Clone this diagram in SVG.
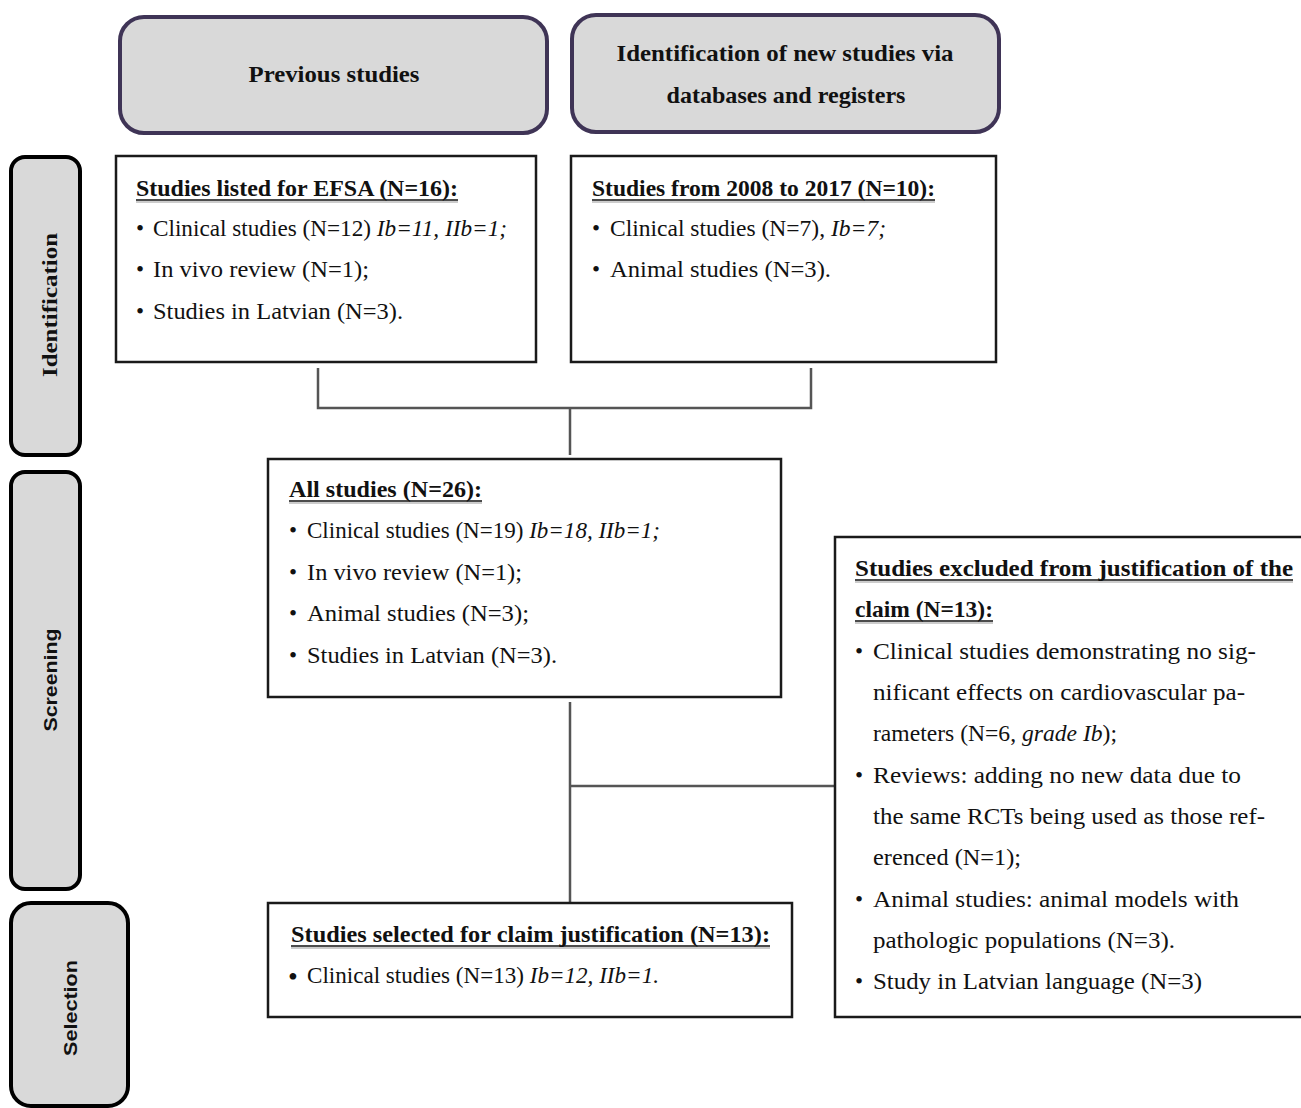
<svg xmlns="http://www.w3.org/2000/svg" width="1301" height="1108" viewBox="0 0 1301 1108">
<style>
.hdr{fill:#d9d9d9;stroke:#3f3456;stroke-width:4}
.side{fill:#d9d9d9;stroke:#000;stroke-width:4}
.box{fill:#fff;stroke:#1a1a1a;stroke-width:2.5}
.conn{fill:none;stroke:#555;stroke-width:2.5}
.ul{stroke:#111;stroke-width:1.5}
.uls{stroke:#bbb;stroke-width:1.5}
text{font-family:"Liberation Serif","Times New Roman",serif;font-size:23px;fill:#111}
.b{font-weight:bold}
.i{font-style:italic}
.sans{font-family:"Liberation Sans",Arial,sans-serif;font-weight:bold;font-size:19px}
</style>
<g id="connectors">
<path class="conn" d="M318 368V408H811V368M570 408V455"/>
<path class="conn" d="M570 702V902M570 786H835"/>
</g>
<g id="hdr-previous">
<rect class="hdr" x="120" y="17" width="427" height="116" rx="24"/>
<text class="b" x="334" y="82" text-anchor="middle" textLength="171" lengthAdjust="spacingAndGlyphs">Previous studies</text>
</g>
<g id="hdr-new">
<rect class="hdr" x="572" y="15" width="427" height="117" rx="24"/>
<text class="b" x="785" y="61" text-anchor="middle" textLength="337" lengthAdjust="spacingAndGlyphs">Identification of new studies via</text>
<text class="b" x="786" y="103" text-anchor="middle" textLength="239" lengthAdjust="spacingAndGlyphs">databases and registers</text>
</g>
<g id="side-identification">
<rect class="side" x="11" y="157" width="69" height="298" rx="14"/>
<text class="b" x="57" y="305" text-anchor="middle" transform="rotate(-90 57 305)" textLength="144" lengthAdjust="spacingAndGlyphs" style="font-size:21px">Identification</text>
</g>
<g id="side-screening">
<rect class="side" x="11" y="472" width="69" height="417" rx="14"/>
<text class="sans" x="57" y="680" text-anchor="middle" transform="rotate(-90 57 680)" textLength="103" lengthAdjust="spacingAndGlyphs">Screening</text>
</g>
<g id="side-selection">
<rect class="side" x="11" y="903" width="117" height="203" rx="20"/>
<text class="sans" x="77" y="1008" text-anchor="middle" transform="rotate(-90 77 1008)" textLength="96" lengthAdjust="spacingAndGlyphs">Selection</text>
</g>
<g id="box-efsa">
<rect class="box" x="116" y="156" width="420" height="206"/>
<text class="b" x="136" y="196" textLength="322" lengthAdjust="spacingAndGlyphs">Studies listed for EFSA (N=16):</text>
<line class="ul" x1="136" y1="200" x2="458" y2="200"/><line class="uls" x1="136" y1="202" x2="458" y2="202"/>
<text x="136" y="236">•</text><text x="153" y="236" textLength="354" lengthAdjust="spacingAndGlyphs">Clinical studies (N=12) <tspan class="i">Ib=11, IIb=1;</tspan></text>
<text x="136" y="277">•</text><text x="153" y="277" textLength="216" lengthAdjust="spacingAndGlyphs">In vivo review (N=1);</text>
<text x="136" y="319">•</text><text x="153" y="319" textLength="250" lengthAdjust="spacingAndGlyphs">Studies in Latvian (N=3).</text>
</g>
<g id="box-2008">
<rect class="box" x="571" y="156" width="425" height="206"/>
<text class="b" x="592" y="196" textLength="343" lengthAdjust="spacingAndGlyphs">Studies from 2008 to 2017 (N=10):</text>
<line class="ul" x1="592" y1="200" x2="935" y2="200"/><line class="uls" x1="592" y1="202" x2="935" y2="202"/>
<text x="592" y="236">•</text><text x="610" y="236" textLength="276" lengthAdjust="spacingAndGlyphs">Clinical studies (N=7), <tspan class="i">Ib=7;</tspan></text>
<text x="592" y="277">•</text><text x="610" y="277" textLength="221" lengthAdjust="spacingAndGlyphs">Animal studies (N=3).</text>
</g>
<g id="box-all">
<rect class="box" x="268" y="459" width="513" height="238"/>
<text class="b" x="289" y="497" textLength="193" lengthAdjust="spacingAndGlyphs">All studies (N=26):</text>
<line class="ul" x1="289" y1="501" x2="482" y2="501"/><line class="uls" x1="289" y1="503" x2="482" y2="503"/>
<text x="289" y="538">•</text><text x="307" y="538" textLength="353" lengthAdjust="spacingAndGlyphs">Clinical studies (N=19) <tspan class="i">Ib=18, IIb=1;</tspan></text>
<text x="289" y="580">•</text><text x="307" y="580" textLength="215" lengthAdjust="spacingAndGlyphs">In vivo review (N=1);</text>
<text x="289" y="621">•</text><text x="307" y="621" textLength="222" lengthAdjust="spacingAndGlyphs">Animal studies (N=3);</text>
<text x="289" y="663">•</text><text x="307" y="663" textLength="250" lengthAdjust="spacingAndGlyphs">Studies in Latvian (N=3).</text>
</g>
<g id="box-excluded">
<rect class="box" x="835" y="537" width="475" height="480"/>
<text class="b" x="855" y="576" textLength="438" lengthAdjust="spacingAndGlyphs">Studies excluded from justification of the</text>
<line class="ul" x1="855" y1="580" x2="1293" y2="580"/><line class="uls" x1="855" y1="582" x2="1293" y2="582"/>
<text class="b" x="855" y="617" textLength="138" lengthAdjust="spacingAndGlyphs">claim (N=13):</text>
<line class="ul" x1="855" y1="621" x2="993" y2="621"/><line class="uls" x1="855" y1="623" x2="993" y2="623"/>
<text x="855" y="659">•</text><text x="873" y="659" textLength="383" lengthAdjust="spacingAndGlyphs">Clinical studies demonstrating no sig-</text>
<text x="873" y="700" textLength="372" lengthAdjust="spacingAndGlyphs">nificant effects on cardiovascular pa-</text>
<text x="873" y="741" textLength="244" lengthAdjust="spacingAndGlyphs">rameters (N=6, <tspan class="i">grade Ib</tspan>);</text>
<text x="855" y="783">•</text><text x="873" y="783" textLength="368" lengthAdjust="spacingAndGlyphs">Reviews: adding no new data due to</text>
<text x="873" y="824" textLength="392" lengthAdjust="spacingAndGlyphs">the same RCTs being used as those ref-</text>
<text x="873" y="865" textLength="148" lengthAdjust="spacingAndGlyphs">erenced (N=1);</text>
<text x="855" y="907">•</text><text x="873" y="907" textLength="366" lengthAdjust="spacingAndGlyphs">Animal studies: animal models with</text>
<text x="873" y="948" textLength="302" lengthAdjust="spacingAndGlyphs">pathologic populations (N=3).</text>
<text x="855" y="989">•</text><text x="873" y="989" textLength="329" lengthAdjust="spacingAndGlyphs">Study in Latvian language (N=3)</text>
</g>
<g id="box-selected">
<rect class="box" x="268" y="903" width="524" height="114"/>
<text class="b" x="291" y="942" textLength="479" lengthAdjust="spacingAndGlyphs">Studies selected for claim justification (N=13):</text>
<line class="ul" x1="291" y1="946" x2="770" y2="946"/><line class="uls" x1="291" y1="948" x2="770" y2="948"/>
<text x="288" y="986" style="font-size:28px">•</text><text x="307" y="983" textLength="352" lengthAdjust="spacingAndGlyphs">Clinical studies (N=13) <tspan class="i">Ib=12, IIb=1.</tspan></text>
</g>
</svg>
